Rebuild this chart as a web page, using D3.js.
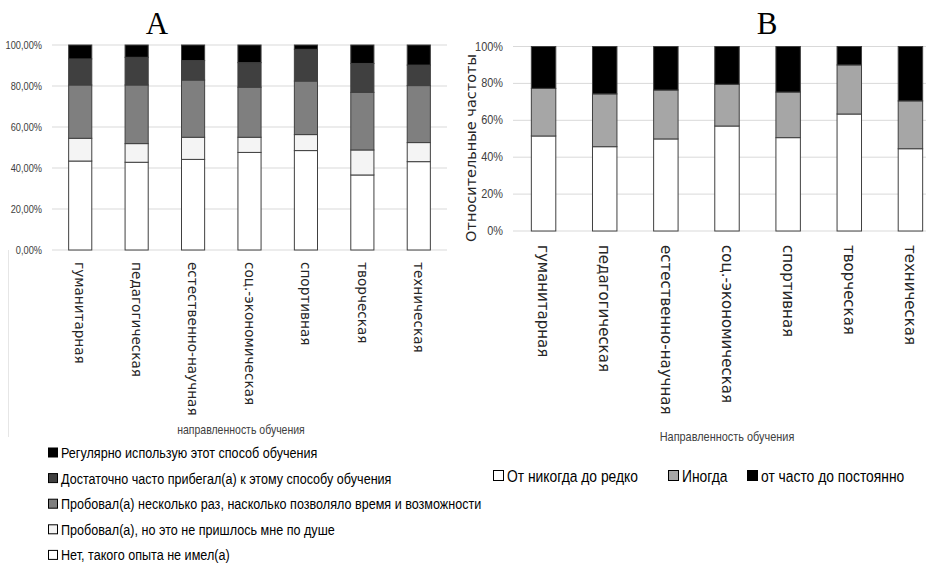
<!DOCTYPE html>
<html>
<head>
<meta charset="utf-8">
<script src="https://cdn.jsdelivr.net/npm/d3@7"></script>
<style>
  body { margin: 0; background: #fff; }
  svg { display: block; }
  text { font-family: "Liberation Sans", Arial, sans-serif; }
  text.wide { font-family: "DejaVu Sans", Verdana, sans-serif; }
</style>
</head>
<body>
<div id="chart"></div>
<script>
// categories (same for both panels)
var groups = ["гуманитарная", "педагогическая", "естественно-научная", "соц.-экономическая", "спортивная", "творческая", "техническая"];

// panel A: series bottom -> top
var keysA = ["Нет, такого опыта не имел(а)", "Пробовал(а), но это не пришлось мне по душе",
  "Пробовал(а) несколько раз, насколько позволяло время и возможности",
  "Достаточно часто прибегал(а) к этому способу обучения", "Регулярно использую этот способ обучения"];
var noExp   = [43.4, 42.8, 44.2, 47.6, 48.5, 36.6, 43.1];
var triedNo = [11.1,  9.1, 10.8,  7.4,  7.8, 12.2,  9.3];
var triedFew= [26.0, 28.6, 27.9, 24.4, 26.1, 28.1, 27.8];
var often   = [12.7, 13.5,  9.5, 12.0, 15.5, 14.1, 10.0];
var regular = [ 6.8,  6.0,  7.6,  8.6,  2.1,  9.0,  9.8];
var ticksA = [0, 20, 40, 60, 80, 100];

// panel B: series bottom -> top
var keysB = ["От никогда до редко", "Иногда", "от часто до постоянно"];
var rarely   = [51.5, 45.7, 49.9, 56.9, 50.6, 63.4, 44.6];
var sometimes= [25.8, 28.6, 26.5, 22.6, 24.7, 26.6, 25.9];
var always   = [22.7, 25.7, 23.6, 20.5, 24.7, 10.0, 29.5];
var ticksB = [0, 20, 40, 60, 80, 100];

var colorsA = ["#ffffff", "#f4f4f4", "#7f7f7f", "#404040", "#000000"];
var colorsB = ["#ffffff", "#a6a6a6", "#000000"];

// no narrow font installed -> squeeze sans horizontally
var K = 0.84;
function narrowT(x, y) { return "translate(" + x + "," + y + ") scale(" + K + ",1)"; }

var svg = d3.select("#chart").append("svg")
  .attr("width", 926).attr("height", 566);

function rows(keys, series) {
  return groups.map(function(g, i) {
    var r = {group: g};
    keys.forEach(function(k, j) { r[k] = series[j][i]; });
    return r;
  });
}

function panel(opt) {
  var x = d3.scaleBand().domain(groups).range(opt.xr)
    .paddingInner(opt.pad).paddingOuter(opt.pad / 2);
  var y = d3.scaleLinear().domain([0, 100]).range(opt.yr);

  // gridlines
  svg.append("g").selectAll("line").data(opt.ticks).enter().append("line")
    .attr("x1", opt.xr[0]).attr("x2", opt.gridEnd)
    .attr("y1", function(d) { return y(d); }).attr("y2", function(d) { return y(d); })
    .attr("stroke", "#d9d9d9").attr("stroke-width", 1);

  // y labels
  svg.append("g").selectAll("text").data(opt.ticks).enter().append("text")
    .attr("transform", function(d) { return narrowT(opt.labelX, y(d) + 4); })
    .attr("text-anchor", "end").attr("font-size", opt.tickSize).attr("fill", "#404040")
    .text(opt.fmt);

  var stack = d3.stack().keys(opt.keys)(rows(opt.keys, opt.series));
  svg.append("g").selectAll("g").data(stack).enter().append("g")
    .attr("fill", function(d, i) { return opt.colors[i]; })
    .selectAll("rect").data(function(d) { return d; }).enter().append("rect")
    .attr("x", function(d) { return x(d.data.group); })
    .attr("y", function(d) { return y(d[1]); })
    .attr("width", x.bandwidth())
    .attr("height", function(d) { return y(d[0]) - y(d[1]); })
    .attr("stroke", "#404040").attr("stroke-width", 1);

  // category labels, rotated
  svg.append("g").selectAll("text").data(groups).enter().append("text")
    .attr("class", "wide")
    .attr("transform", function(d) {
      return "translate(" + (x(d) + x.bandwidth() / 2) + "," + opt.catY + ") rotate(90)";
    })
    .attr("dy", "0.35em").attr("font-size", opt.catSize).attr("fill", "#262626")
    .text(function(d) { return d; });
  return {x: x, y: y};
}

panel({xr: [52, 447], gridEnd: 447, yr: [250, 45], pad: 0.59, ticks: ticksA,
  labelX: 42, tickSize: 11, fmt: function(d) { return d3.format(".2f")(d).replace(".", ",") + "%"; },
  keys: keysA, series: [noExp, triedNo, triedFew, often, regular], colors: colorsA,
  catY: 262, catSize: 13.6});

panel({xr: [513, 941], gridEnd: 926, yr: [231, 46.5], pad: 0.6, ticks: ticksB,
  labelX: 503, tickSize: 13, fmt: function(d) { return d + "%"; },
  keys: keysB, series: [rarely, sometimes, always], colors: colorsB,
  catY: 245, catSize: 15});

// titles
svg.append("text").attr("x", 157).attr("y", 34).attr("text-anchor", "middle")
  .style("font-family", "Liberation Serif, DejaVu Serif, serif").attr("font-size", 31).text("A");
svg.append("text").attr("x", 767).attr("y", 34).attr("text-anchor", "middle")
  .style("font-family", "Liberation Serif, DejaVu Serif, serif").attr("font-size", 31).text("B");

// axis titles
svg.append("text").attr("transform", narrowT(241, 434)).attr("text-anchor", "middle")
  .attr("font-size", 12.5).attr("fill", "#404040").text("направленность обучения");
svg.append("text").attr("transform", narrowT(727, 441)).attr("text-anchor", "middle")
  .attr("font-size", 13).attr("fill", "#404040").text("Направленность обучения");
svg.append("text").attr("class", "wide")
  .attr("transform", "translate(476,148) rotate(-90)").attr("text-anchor", "middle")
  .attr("font-size", 14.5).attr("fill", "#262626").text("Относительные частоты");

// faint frame line of panel A
svg.append("line").attr("x1", 8.5).attr("x2", 8.5).attr("y1", 250).attr("y2", 437)
  .attr("stroke", "#e6e6e6");

// legend A (top item = top series)
var legA = svg.append("g").selectAll("g")
  .data(keysA.slice().reverse()).enter().append("g")
  .attr("transform", function(d, i) { return "translate(48," + (453 + i * 25.6) + ")"; });
legA.append("rect").attr("x", 0.5).attr("y", -5).attr("width", 9).attr("height", 9)
  .attr("fill", function(d, i) { return colorsA[colorsA.length - 1 - i]; })
  .attr("stroke", "#000").attr("stroke-width", 1);
legA.append("text").attr("transform", narrowT(13, 5)).attr("font-size", 15).attr("fill", "#000")
  .text(function(d) { return d; });

// legend B
var legX = [493, 668, 747];
var legB = svg.append("g").selectAll("g")
  .data(keysB).enter().append("g")
  .attr("transform", function(d, i) { return "translate(" + legX[i] + ",476)"; });
legB.append("rect").attr("x", 0.5).attr("y", -5.5).attr("width", 10).attr("height", 10)
  .attr("fill", function(d, i) { return colorsB[i]; })
  .attr("stroke", "#000").attr("stroke-width", 1);
legB.append("text").attr("transform", narrowT(14, 5.5)).attr("font-size", 16.5).attr("fill", "#000")
  .text(function(d) { return d; });
</script>
</body>
</html>
